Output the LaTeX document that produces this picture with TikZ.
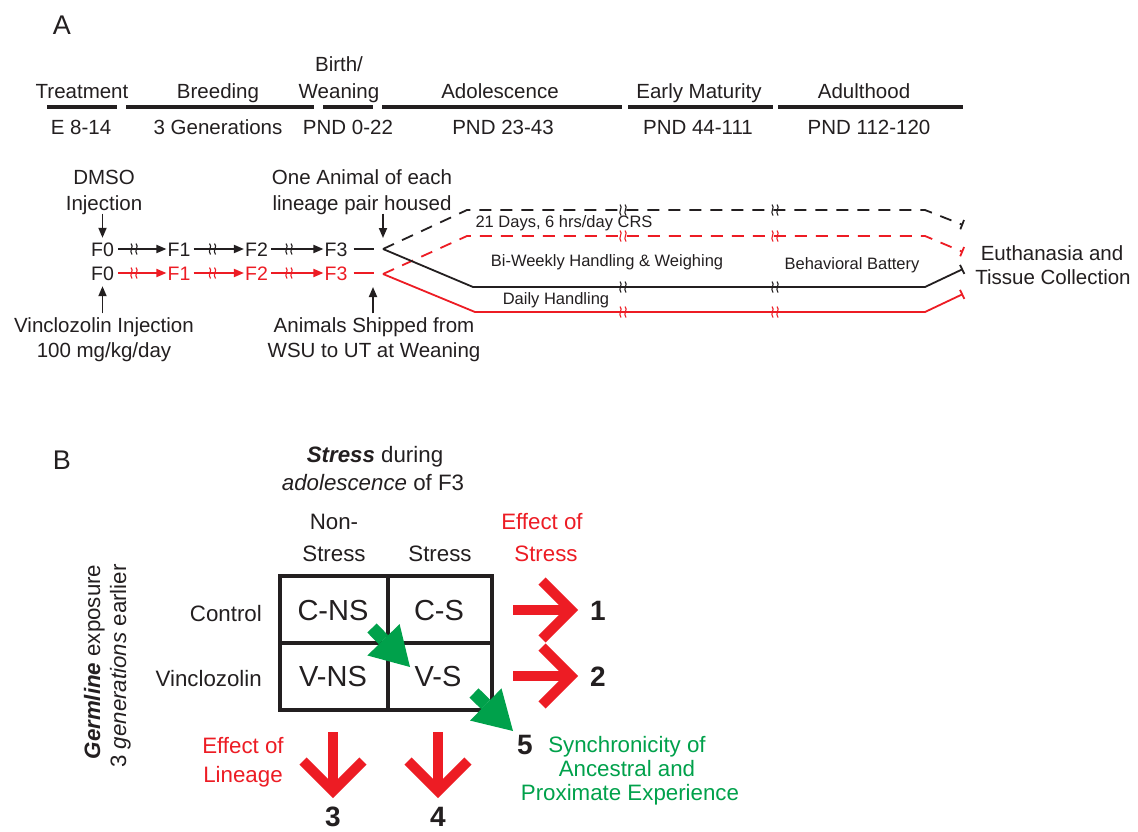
\documentclass[tikz,border=0pt]{standalone}
\usepackage{fontspec}
\setmainfont{Liberation Sans}
\usetikzlibrary{arrows.meta,calc}
\definecolor{tc}{HTML}{231F20}
\definecolor{rd}{HTML}{ED1C24}
\definecolor{gr}{HTML}{00A14B}
\newcommand\myfs[1]{\fontsize{#1}{#1}\selectfont}
\tikzset{
  lab/.style={font=\myfs{20.5}, text=tc, inner sep=0pt, text height=14.7pt, text depth=0pt},
  labB/.style={font=\myfs{22.3}, text=tc, inner sep=0pt, text height=16pt, text depth=0pt},
  sml/.style={font=\myfs{16.5}, text=tc, inner sep=0pt, text height=11.8pt, text depth=0pt},
  flab/.style={font=\myfs{19.5}, inner sep=0pt, text height=14pt, text depth=0pt},
  cell/.style={font=\myfs{29}, text=tc, inner sep=0pt, text height=20.8pt, text depth=0pt},
  num/.style={font={\myfs{28}\bfseries}, text=tc, inner sep=0pt, text height=20pt, text depth=0pt},
  panel/.style={font=\myfs{27}, text=tc, inner sep=0pt, text height=19.3pt, text depth=0pt},
  tbar/.style={line width=4.5pt, draw=tc},
  fa/.style={line width=1.8pt, -{Triangle[length=10pt,width=8pt]}},
  ln/.style={line width=1.8pt},
  dsh/.style={line width=1.8pt, dash pattern=on 12pt off 9pt},
  ebar/.style={-{Bar[width=10pt,line width=1.8pt]}},
  redarr/.style={draw=rd, line width=10pt},
  grid/.style={draw=tc, line width=3.5pt},
  brk/.pic={
    \draw[line width=1.1pt] (-3,-5.5) .. controls (0.5,-2.5) and (-5.5,1.5) .. (-2,5.5);
    \draw[line width=1.1pt] (2,-5.5) .. controls (5.5,-2.5) and (-0.5,1.5) .. (3,5.5);
  }
}
\begin{document}
\begin{tikzpicture}[x=1pt,y=-1pt]
\useasboundingbox[fill=white] (0,0) rectangle (1138,832);

% ---------------- Panel A: timeline ----------------
\node[panel] (pA) at (62,25) {A};
\node[lab] (tTreat) at (82,91) {Treatment};
\node[lab] (tBreed) at (218,91) {Breeding};
\node[lab] (tBirth) at (339,64) {Birth/};
\node[lab] (tWean) at (339,91) {Weaning};
\node[lab] (tAdol) at (500,91) {Adolescence};
\node[lab] (tEarly) at (699,91) {Early Maturity};
\node[lab] (tAdult) at (864,91) {Adulthood};

\draw[tbar] (47,107) -- (117,107);
\draw[tbar] (126,107) -- (314,107);
\draw[tbar] (323,107) -- (373,107);
\draw[tbar] (382,107) -- (622,107);
\draw[tbar] (628,107) -- (773,107);
\draw[tbar] (778,107) -- (963,107);

\node[lab] (dE) at (81,127) {E 8-14};
\node[lab] (dGen) at (218,127) {3 Generations};
\node[lab] (dP1) at (348,127) {PND 0-22};
\node[lab] (dP2) at (503,127) {PND 23-43};
\node[lab] (dP3) at (698,127) {PND 44-111};
\node[lab] (dP4) at (869,127) {PND 112-120};

% ---------------- Panel A: lineages ----------------
\node[lab] (dmso) at (104,177) {DMSO};
\node[lab] (inj) at (104,203) {Injection};
\node[lab] (one) at (362,177) {One Animal of each};
\node[lab] (lin) at (362,203) {lineage pair housed};

\node[flab, text=tc] (f0t) at (102.5,249) {F0};
\node[flab, text=tc] (f1t) at (179,249) {F1};
\node[flab, text=tc] (f2t) at (256.5,249) {F2};
\node[flab, text=tc] (f3t) at (336,249) {F3};
\node[flab, text=tc] (f0b) at (102.5,273) {F0};
\node[flab, text=rd] (f1b) at (179,273) {F1};
\node[flab, text=rd] (f2b) at (256.5,273) {F2};
\node[flab, text=rd] (f3b) at (336,273) {F3};

\draw[fa, tc, shorten <=4pt, shorten >=1pt] (f0t.east) -- (f1t.west);
\draw[fa, tc, shorten <=3pt, shorten >=1pt] (f1t.east) -- (f2t.west);
\draw[fa, tc, shorten <=3pt, shorten >=1pt] (f2t.east) -- (f3t.west);
\draw[fa, rd, shorten <=4pt, shorten >=1pt] (f0b.east) -- (f1b.west);
\draw[fa, rd, shorten <=3pt, shorten >=1pt] (f1b.east) -- (f2b.west);
\draw[fa, rd, shorten <=3pt, shorten >=1pt] (f2b.east) -- (f3b.west);
\pic[tc] at (134,249) {brk};
\pic[tc] at (212.5,249) {brk};
\pic[tc] at (289,249) {brk};
\pic[rd] at (134,273) {brk};
\pic[rd] at (212.5,273) {brk};
\pic[rd] at (289,273) {brk};

\coordinate (vt) at (383,249);
\coordinate (vb) at (383,274);
\draw[ln, tc] ($(f3t.east)+(6,0)$) -- ($(f3t.east)+(26,0)$);
\draw[ln, rd] ($(f3b.east)+(6,0)$) -- ($(f3b.east)+(26,0)$);

\draw[fa, tc, shorten <=3pt, shorten >=4pt] (inj.south -| f0t) -- (f0t.north);
\draw[fa, tc, shorten <=3pt, shorten >=11pt] (lin.south -| vt) -- (vt);

\node[lab] (vinj) at (104,325) {Vinclozolin Injection};
\node[lab] (vdose) at (104,350) {100 mg/kg/day};
\node[lab] (ship) at (374,325) {Animals Shipped from};
\node[lab] (wsu) at (374,350) {WSU to UT at Weaning};
\coordinate (shipTip) at (373,287);
\draw[fa, tc, shorten <=4pt, shorten >=6pt] (f0b |- vinj.north) -- (f0b.south);
\draw[fa, tc, shorten <=4pt] (shipTip |- ship.north) -- (shipTip);

% long treatment lines
\coordinate (a1) at (467,210); \coordinate (a2) at (925,210); \coordinate (ae) at (963,225);
\coordinate (b1) at (467,236); \coordinate (b2) at (925,236); \coordinate (be) at (963,252);
\coordinate (c1) at (473,287); \coordinate (c2) at (925,287); \coordinate (ce) at (963,269);
\coordinate (d1) at (475,312); \coordinate (d2) at (925,312); \coordinate (de) at (963,294);
\draw[dsh, tc, ebar] (vt) -- (a1) -- (a2) -- (ae);
\draw[dsh, rd, ebar] (vb) -- (b1) -- (b2) -- (be);
\draw[ln, tc, ebar] (vt) -- (c1) -- (c2) -- (ce);
\draw[ln, rd, ebar] (vb) -- (d1) -- (d2) -- (de);
\foreach \xx in {623,775}{
  \pic[tc] at (\xx,210) {brk};
  \pic[rd] at (\xx,236) {brk};
  \pic[tc] at (\xx,287) {brk};
  \pic[rd] at (\xx,312) {brk};
}
\node[sml] (crs) at (564,222) {21 Days, 6 hrs/day CRS};
\node[sml] (biw) at (607,261) {Bi-Weekly Handling \& Weighing};
\node[sml] (beh) at (852,264) {Behavioral Battery};
\node[sml] (daily) at (556,299) {Daily Handling};
\node[lab] (euth) at (1052,253) {Euthanasia and};
\node[lab] (tiss) at (1053,277) {Tissue Collection};

% ---------------- Panel B ----------------
\node[panel] (pB) at (62,460) {B};
\node[labB] (sd) at (375,454) {\textbf{\textit{Stress}} during};
\node[labB] (adf) at (373,482) {\textit{adolescence} of F3};
\node[labB] (non1) at (334,521) {Non-};
\node[labB] (non2) at (334,553) {Stress};
\node[labB] (st2) at (440,553) {Stress};
\node[labB, text=rd] (es1) at (542,521) {Effect of};
\node[labB, text=rd] (es2) at (546,553) {Stress};
\node[labB, anchor=east] (ctl) at (262,613) {Control};
\node[labB, anchor=east] (vin) at (262,678) {Vinclozolin};
\node[labB, rotate=90] (germ) at (92,662) {\textbf{\textit{Germline}} exposure};
\node[labB, rotate=90] (gen) at (118,666) {3 \textit{generations} earlier};

\draw[grid] (280,576) rectangle (492,710);
\draw[grid] (388,576) -- (388,710);
\draw[grid] (280,643) -- (492,643);
\node[cell] (cns) at (333,610) {C-NS};
\node[cell] (cs) at (439,610) {C-S};
\node[cell] (vns) at (333,676) {V-NS};
\node[cell] (vs) at (438,676) {V-S};

% red effect arrows
\coordinate (r1s) at (513,610); \coordinate (r1t) at (571,610);
\coordinate (r1a) at (542,581); \coordinate (r1b) at (542,639);
\draw[redarr] (r1s) -- (r1t);
\draw[redarr] (r1a) -- (r1t) -- (r1b);
\coordinate (r2s) at (513,676); \coordinate (r2t) at (571,676);
\coordinate (r2a) at (542,647); \coordinate (r2b) at (542,705);
\draw[redarr] (r2s) -- (r2t);
\draw[redarr] (r2a) -- (r2t) -- (r2b);
\coordinate (r3s) at (333,732); \coordinate (r3t) at (333,791);
\coordinate (r3a) at (303,761); \coordinate (r3b) at (363,761);
\draw[redarr] (r3s) -- (r3t);
\draw[redarr] (r3a) -- (r3t) -- (r3b);
\coordinate (r4s) at (438,732); \coordinate (r4t) at (438,791);
\coordinate (r4a) at (408,761); \coordinate (r4b) at (468,761);
\draw[redarr] (r4s) -- (r4t);
\draw[redarr] (r4a) -- (r4t) -- (r4b);

\node[num] (n1) at (598,610) {1};
\node[num] (n2) at (598,676) {2};
\node[num] (n3) at (333,816) {3};
\node[num] (n4) at (438,816) {4};
\node[num] (n5) at (525,744) {5};

\node[labB, text=rd] (el1) at (243,745) {Effect of};
\node[labB, text=rd] (el2) at (243,774) {Lineage};

% green arrows
\coordinate (g1s) at (372,628); \coordinate (g1t) at (410,667);
\coordinate (g1b) at ($(g1t)!38pt!(g1s)$);
\coordinate (g1u) at ($(g1b)!22.5pt!90:(g1t)$);
\coordinate (g1v) at ($(g1b)!22.5pt!-90:(g1t)$);
\draw[gr, line width=13pt] (g1s) -- (g1b);
\fill[gr] (g1t) -- (g1u) -- (g1v) -- cycle;
\coordinate (g2s) at (474,693); \coordinate (g2t) at (513,731);
\coordinate (g2b) at ($(g2t)!38pt!(g2s)$);
\coordinate (g2u) at ($(g2b)!22.5pt!90:(g2t)$);
\coordinate (g2v) at ($(g2b)!22.5pt!-90:(g2t)$);
\draw[gr, line width=13pt] (g2s) -- (g2b);
\fill[gr] (g2t) -- (g2u) -- (g2v) -- cycle;

\node[labB, text=gr] (sy1) at (627,744) {Synchronicity of};
\node[labB, text=gr] (sy2) at (627,768) {Ancestral and};
\node[labB, text=gr] (sy3) at (630,792) {Proximate Experience};
\end{tikzpicture}
\end{document}
